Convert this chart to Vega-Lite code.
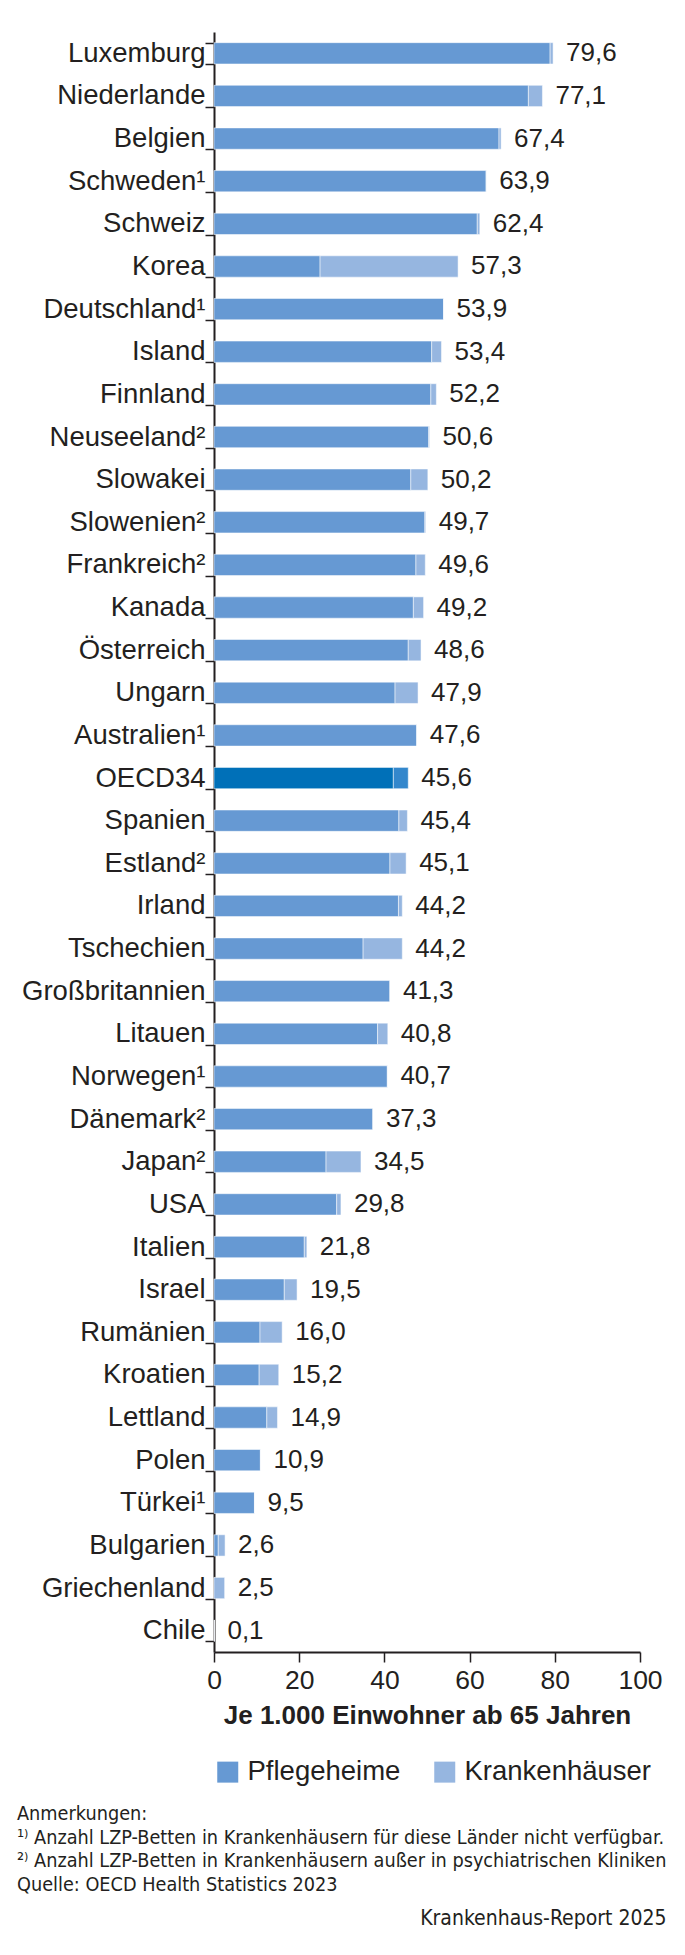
{
  "$schema": "https://vega.github.io/schema/vega-lite/v6.json",
  "background": "white",
  "padding": {"left": 17, "top": 18, "right": 8, "bottom": 8},
  "config": {
    "locale": {"number": {"decimal": ",", "thousands": ".", "grouping": [3], "currency": ["", " €"]}},
    "font": "Liberation Sans",
    "view": {"stroke": null},
    "concat": {"spacing": 0}
  },
  "title": {"text": "Krankenhaus-Report 2025", "orient": "bottom", "anchor": "end", "frame": "bounds", "fontSize": 21, "fontWeight": "normal", "color": "#231f20", "font": "Liberation Sans Narrow, DejaVu Sans Condensed, Liberation Sans", "offset": 14},
  "resolve": {"scale": {"color": "independent"}, "legend": {"color": "independent"}},
  "vconcat": [
    {
      "title": {
        "text": ["Anmerkungen:", "¹⁾ Anzahl LZP-Betten in Krankenhäusern für diese Länder nicht verfügbar.", "²⁾ Anzahl LZP-Betten in Krankenhäusern außer in psychiatrischen Kliniken", "Quelle: OECD Health Statistics 2023"],
        "orient": "bottom", "anchor": "start", "frame": "bounds",
        "fontSize": 19.7, "fontWeight": "normal", "color": "#231f20", "lineHeight": 23.5,
        "font": "Liberation Sans Narrow, DejaVu Sans Condensed, Liberation Sans",
        "offset": 18
      },
      "resolve": {"scale": {"color": "independent"}, "legend": {"color": "independent"}},
      "vconcat": [
        {
          "width": 426,
          "height": 1620,
          "data": {"values": [
            {"land": "Luxemburg", "Pflegeheime": 78.9, "Krankenhäuser": 0.7, "gesamt": 79.6},
            {"land": "Niederlande", "Pflegeheime": 73.8, "Krankenhäuser": 3.3, "gesamt": 77.1},
            {"land": "Belgien", "Pflegeheime": 66.9, "Krankenhäuser": 0.5, "gesamt": 67.4},
            {"land": "Schweden¹", "Pflegeheime": 63.9, "Krankenhäuser": 0, "gesamt": 63.9},
            {"land": "Schweiz", "Pflegeheime": 61.8, "Krankenhäuser": 0.6, "gesamt": 62.4},
            {"land": "Korea", "Pflegeheime": 24.9, "Krankenhäuser": 32.4, "gesamt": 57.3},
            {"land": "Deutschland¹", "Pflegeheime": 53.9, "Krankenhäuser": 0, "gesamt": 53.9},
            {"land": "Island", "Pflegeheime": 51.1, "Krankenhäuser": 2.3, "gesamt": 53.4},
            {"land": "Finnland", "Pflegeheime": 50.9, "Krankenhäuser": 1.3, "gesamt": 52.2},
            {"land": "Neuseeland²", "Pflegeheime": 50.4, "Krankenhäuser": 0.2, "gesamt": 50.6},
            {"land": "Slowakei", "Pflegeheime": 46.2, "Krankenhäuser": 4.0, "gesamt": 50.2},
            {"land": "Slowenien²", "Pflegeheime": 49.5, "Krankenhäuser": 0.2, "gesamt": 49.7},
            {"land": "Frankreich²", "Pflegeheime": 47.4, "Krankenhäuser": 2.2, "gesamt": 49.6},
            {"land": "Kanada", "Pflegeheime": 46.8, "Krankenhäuser": 2.4, "gesamt": 49.2},
            {"land": "Österreich", "Pflegeheime": 45.6, "Krankenhäuser": 3.0, "gesamt": 48.6},
            {"land": "Ungarn", "Pflegeheime": 42.5, "Krankenhäuser": 5.4, "gesamt": 47.9},
            {"land": "Australien¹", "Pflegeheime": 47.6, "Krankenhäuser": 0, "gesamt": 47.6},
            {"land": "OECD34", "Pflegeheime": 42.1, "Krankenhäuser": 3.5, "gesamt": 45.6},
            {"land": "Spanien", "Pflegeheime": 43.4, "Krankenhäuser": 2.0, "gesamt": 45.4},
            {"land": "Estland²", "Pflegeheime": 41.3, "Krankenhäuser": 3.8, "gesamt": 45.1},
            {"land": "Irland", "Pflegeheime": 43.3, "Krankenhäuser": 0.9, "gesamt": 44.2},
            {"land": "Tschechien", "Pflegeheime": 35.0, "Krankenhäuser": 9.2, "gesamt": 44.2},
            {"land": "Großbritannien", "Pflegeheime": 41.3, "Krankenhäuser": 0, "gesamt": 41.3},
            {"land": "Litauen", "Pflegeheime": 38.4, "Krankenhäuser": 2.4, "gesamt": 40.8},
            {"land": "Norwegen¹", "Pflegeheime": 40.7, "Krankenhäuser": 0, "gesamt": 40.7},
            {"land": "Dänemark²", "Pflegeheime": 37.3, "Krankenhäuser": 0, "gesamt": 37.3},
            {"land": "Japan²", "Pflegeheime": 26.3, "Krankenhäuser": 8.2, "gesamt": 34.5},
            {"land": "USA", "Pflegeheime": 28.8, "Krankenhäuser": 1.0, "gesamt": 29.8},
            {"land": "Italien", "Pflegeheime": 21.2, "Krankenhäuser": 0.6, "gesamt": 21.8},
            {"land": "Israel", "Pflegeheime": 16.5, "Krankenhäuser": 3.0, "gesamt": 19.5},
            {"land": "Rumänien", "Pflegeheime": 10.8, "Krankenhäuser": 5.2, "gesamt": 16.0},
            {"land": "Kroatien", "Pflegeheime": 10.6, "Krankenhäuser": 4.6, "gesamt": 15.2},
            {"land": "Lettland", "Pflegeheime": 12.4, "Krankenhäuser": 2.5, "gesamt": 14.9},
            {"land": "Polen", "Pflegeheime": 10.9, "Krankenhäuser": 0, "gesamt": 10.9},
            {"land": "Türkei¹", "Pflegeheime": 9.5, "Krankenhäuser": 0, "gesamt": 9.5},
            {"land": "Bulgarien", "Pflegeheime": 1.0, "Krankenhäuser": 1.6, "gesamt": 2.6},
            {"land": "Griechenland", "Pflegeheime": 0, "Krankenhäuser": 2.5, "gesamt": 2.5},
            {"land": "Chile", "Pflegeheime": 0.1, "Krankenhäuser": 0, "gesamt": 0.1}
          ]},
          "encoding": {
            "y": {
              "field": "land", "type": "nominal", "sort": null,
              "scale": {"paddingInner": 0.5, "paddingOuter": 0.25},
              "axis": {
                "title": null, "tickBand": "extent", "domainColor": "#231f20", "domainWidth": 2,
                "tickColor": "#231f20", "tickWidth": 1.5, "tickSize": 9, "labelPadding": 0,
                "labelFontSize": 27.5, "labelColor": "#231f20", "labelLimit": 300, "minExtent": 197
              }
            }
          },
          "layer": [
            {
              "transform": [{"fold": ["Pflegeheime", "Krankenhäuser"], "as": ["typ", "wert"]}],
              "mark": {"type": "bar", "stroke": "white", "strokeWidth": 1, "strokeOpacity": 0.5},
              "encoding": {
                "x": {
                  "field": "wert", "type": "quantitative", "stack": "zero",
                  "scale": {"domain": [0, 100], "nice": false},
                  "axis": {
                    "values": [0, 20, 40, 60, 80, 100], "grid": false,
                    "title": "Je 1.000 Einwohner ab 65 Jahren", "titleFontSize": 26, "titleFontWeight": "bold",
                    "titleColor": "#231f20", "titlePadding": 9,
                    "domainColor": "#231f20", "domainWidth": 2, "tickColor": "#231f20", "tickWidth": 1.5,
                    "tickSize": 10, "labelFontSize": 26.5, "labelColor": "#231f20", "labelPadding": 5,
                    "labelFlush": false
                  }
                },
                "color": {
                  "field": "typ", "type": "nominal",
                  "condition": [
                    {"test": "datum.land === 'OECD34' && datum.typ === 'Pflegeheime'", "value": "#0070b8"},
                    {"test": "datum.land === 'OECD34' && datum.typ === 'Krankenhäuser'", "value": "#3387cc"}
                  ],
                  "scale": {"domain": ["Pflegeheime", "Krankenhäuser"], "range": ["#6699d3", "#96b6e0"]},
                  "legend": {
                    "title": null, "orient": "bottom", "direction": "horizontal",
                    "symbolType": "square", "symbolSize": 441, "symbolStrokeWidth": 0,
                    "labelFontSize": 27.5, "labelColor": "#231f20", "columnPadding": 30,
                    "labelOffset": 6, "offset": 29, "labelLimit": 400
                  }
                },
                "order": {"field": "typ", "sort": "descending"}
              }
            },
            {
              "mark": {"type": "text", "align": "left", "baseline": "middle", "dx": 13, "fontSize": 26, "color": "#231f20"},
              "encoding": {
                "x": {"field": "gesamt", "type": "quantitative"},
                "text": {"field": "gesamt", "type": "quantitative", "format": ".1f"}
              }
            }
          ]
        }
      ]
    }
  ]
}
